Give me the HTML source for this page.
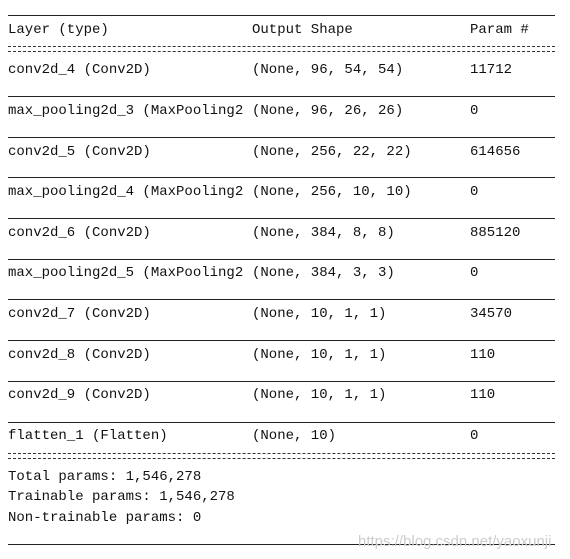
<!DOCTYPE html>
<html><head><meta charset="utf-8"><style>
body{margin:0;width:570px;height:559px;background:#fff;position:relative;overflow:hidden;font-family:"Liberation Mono","Noto Sans CJK SC",monospace;font-size:14px;color:#111}
.t{position:absolute;line-height:16px;white-space:pre}
.u{position:absolute;left:8px;width:547px;height:1px;background:#222}
.e{position:absolute;left:8px;width:547px;height:4px;border-top:1px dashed #333;border-bottom:1px dashed #333}
.wm{position:absolute;left:358px;top:533px;font-family:"Liberation Sans",sans-serif;font-size:15px;color:#ccc}
</style></head><body>
<div class="u" style="top:15px"></div>
<div class="t" style="left:8px;top:22px">Layer (type)</div>
<div class="t" style="left:252px;top:22px">Output Shape</div>
<div class="t" style="left:470px;top:22px">Param #</div>
<div class="e" style="top:46px"></div>

<div class="t" style="left:8px;top:62px">conv2d_4 (Conv2D)</div><div class="t" style="left:252px;top:62px">(None, 96, 54, 54)</div><div class="t" style="left:470px;top:62px">11712</div>
<div class="u" style="top:96px"></div>
<div class="t" style="left:8px;top:103px">max_pooling2d_3 (MaxPooling2</div><div class="t" style="left:252px;top:103px">(None, 96, 26, 26)</div><div class="t" style="left:470px;top:103px">0</div>
<div class="u" style="top:137px"></div>
<div class="t" style="left:8px;top:144px">conv2d_5 (Conv2D)</div><div class="t" style="left:252px;top:144px">(None, 256, 22, 22)</div><div class="t" style="left:470px;top:144px">614656</div>
<div class="u" style="top:177px"></div>
<div class="t" style="left:8px;top:184px">max_pooling2d_4 (MaxPooling2</div><div class="t" style="left:252px;top:184px">(None, 256, 10, 10)</div><div class="t" style="left:470px;top:184px">0</div>
<div class="u" style="top:218px"></div>
<div class="t" style="left:8px;top:225px">conv2d_6 (Conv2D)</div><div class="t" style="left:252px;top:225px">(None, 384, 8, 8)</div><div class="t" style="left:470px;top:225px">885120</div>
<div class="u" style="top:259px"></div>
<div class="t" style="left:8px;top:265px">max_pooling2d_5 (MaxPooling2</div><div class="t" style="left:252px;top:265px">(None, 384, 3, 3)</div><div class="t" style="left:470px;top:265px">0</div>
<div class="u" style="top:299px"></div>
<div class="t" style="left:8px;top:306px">conv2d_7 (Conv2D)</div><div class="t" style="left:252px;top:306px">(None, 10, 1, 1)</div><div class="t" style="left:470px;top:306px">34570</div>
<div class="u" style="top:340px"></div>
<div class="t" style="left:8px;top:347px">conv2d_8 (Conv2D)</div><div class="t" style="left:252px;top:347px">(None, 10, 1, 1)</div><div class="t" style="left:470px;top:347px">110</div>
<div class="u" style="top:381px"></div>
<div class="t" style="left:8px;top:387px">conv2d_9 (Conv2D)</div><div class="t" style="left:252px;top:387px">(None, 10, 1, 1)</div><div class="t" style="left:470px;top:387px">110</div>
<div class="u" style="top:422px"></div>
<div class="t" style="left:8px;top:428px">flatten_1 (Flatten)</div><div class="t" style="left:252px;top:428px">(None, 10)</div><div class="t" style="left:470px;top:428px">0</div>
<div class="e" style="top:453px"></div>

<div class="t" style="left:8px;top:469px">Total params: 1,546,278</div>
<div class="t" style="left:8px;top:489px">Trainable params: 1,546,278</div>
<div class="t" style="left:8px;top:510px">Non-trainable params: 0</div>
<div class="u" style="top:544px"></div>
<div class="wm">https://blog.csdn.net/yaoxunji</div>
</body></html>
